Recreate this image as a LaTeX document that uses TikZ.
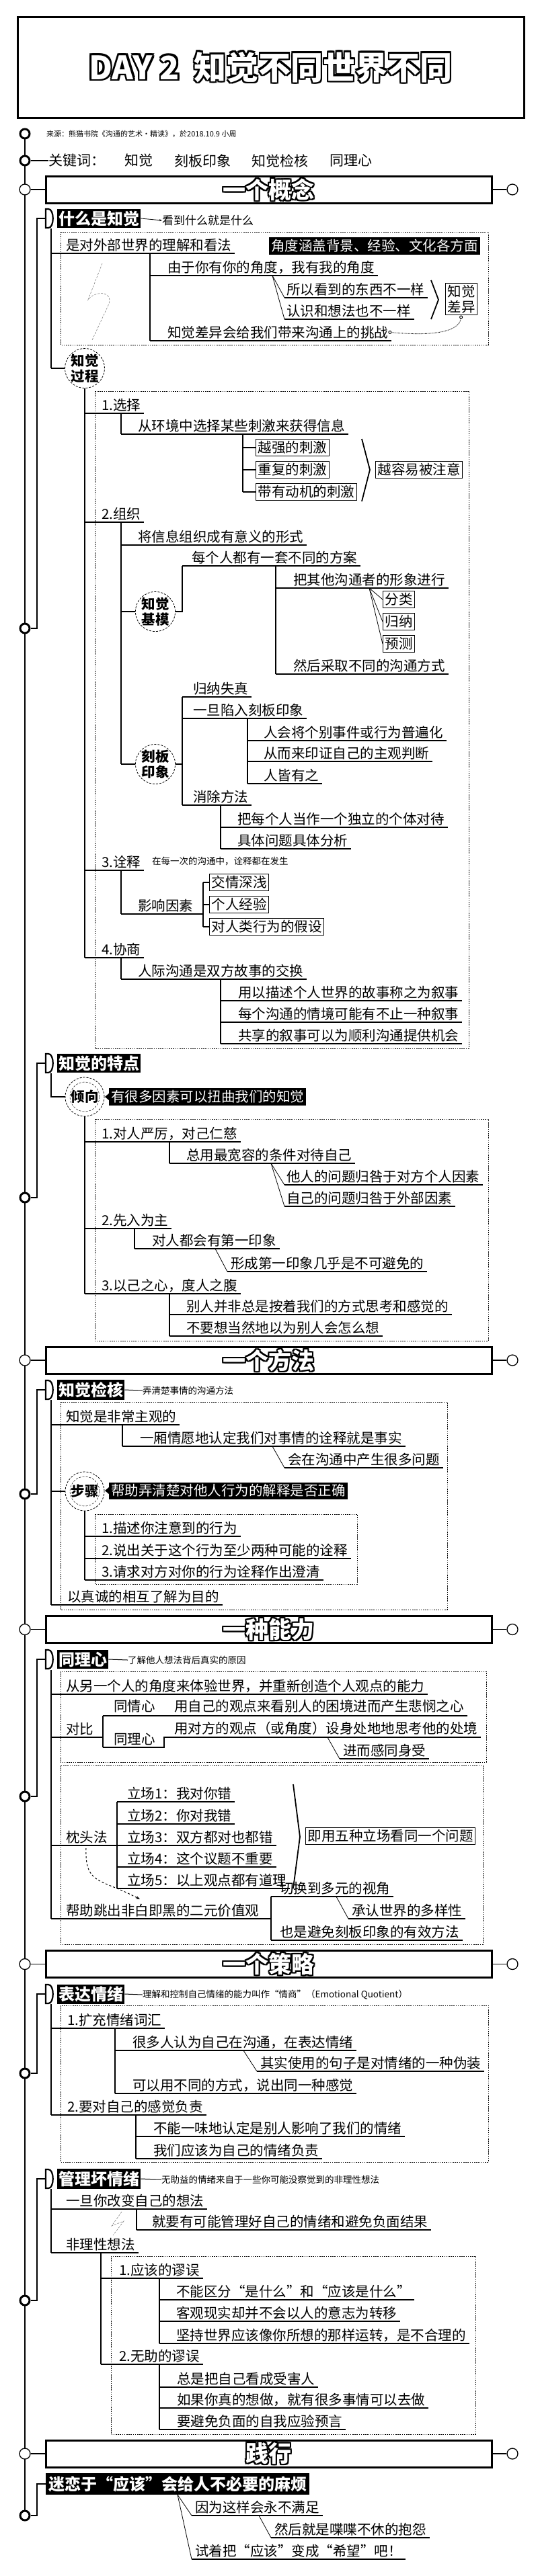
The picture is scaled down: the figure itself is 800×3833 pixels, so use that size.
\documentclass[tikz,border=0pt]{standalone}
\usepackage{fontspec}
\setmainfont{Noto Sans CJK SC}
\usetikzlibrary{calc,arrows.meta}
\newcommand\olcopy[3]{\rlap{\kern#1\raisebox{#2}{\textcolor{black}{#3}}}}
\newcommand\outlined[2]{\olcopy{-#1}{0pt}{#2}\olcopy{#1}{0pt}{#2}\olcopy{0pt}{#1}{#2}\olcopy{0pt}{-#1}{#2}\olcopy{-#1}{-#1}{#2}\olcopy{#1}{#1}{#2}\olcopy{-#1}{#1}{#2}\olcopy{#1}{-#1}{#2}\textcolor{white}{#2}}
\newcommand\brn[5]{%
 \node[txt, anchor=base west] (#1) at (#3,#4-5) {#5};
 \draw[ul] (#2,#4) -- ($(#1.base east)+(5,5)$);}
\newcommand\hdng[3]{%
 \draw[line width=2.2pt, fill=white] (68,#2-14) -- (72,#2-14) .. controls (81,#2-14) and (81,#2+14) .. (72,#2+14) -- (68,#2+14) -- cycle;
 \node[hd, anchor=west] (#1) at (85,#2) {#3};}
\begin{document}
\begin{tikzpicture}[x=1pt, y=-1pt,
 txt/.style={font=\fontsize{20.5}{23}\selectfont, inner sep=0pt},
 kw/.style={font=\fontsize{21}{23}\selectfont, inner sep=0pt, anchor=west},
 ann/.style={font=\fontsize{13.5}{15}\selectfont, inner sep=0pt},
 hand/.style={font=\fontsize{17}{19}\selectfont, inner sep=0pt},
 ul/.style={line width=1.5pt},
 tr/.style={line width=1.2pt},
 fan/.style={line width=0.8pt},
 dbox/.style={line width=0.7pt, dash pattern=on 1.6pt off 1.6pt},
 hd/.style={fill=black, text=white, font=\fontsize{24}{26}\selectfont\bfseries, inner xsep=2pt, inner ysep=3pt},
 blk/.style={fill=black, text=white, font=\fontsize{20.5}{23}\selectfont, inner xsep=3pt, inner ysep=3pt},
 sbox/.style={draw, line width=1pt, fill=white, font=\fontsize{20.5}{23}\selectfont, inner sep=3pt, align=center},
 cir/.style={circle, draw, densely dashed, line width=0.8pt, fill=white, minimum size=58pt, inner sep=0pt, align=center, font=\fontsize{20.5}{23}\selectfont\bfseries},
 dcir/.style={cir, path picture={\draw[densely dashed, line width=0.5pt] (path picture bounding box.center) circle (22pt);}},
 ring/.style={circle, draw, line width=3pt, fill=white, minimum size=14pt, inner sep=0pt},
 tgt/.style={circle, draw, line width=1.3pt, fill=white, minimum size=16pt, inner sep=0pt, path picture={\fill (path picture bounding box.center) circle (3pt);}},
 bar/.style={draw, line width=3pt, fill=white, minimum width=663pt, minimum height=40pt, inner sep=0pt, font=\fontsize{34}{36}\selectfont\bfseries},
 brace/.style={line width=1.8pt}]
\useasboundingbox (0,0) rectangle (800,3833);
\fill[white] (0,0) rectangle (800,3833);

% dashed boxes
\draw[dbox] (90,345) rectangle (726,513);
\draw[dbox] (141,582) rectangle (697,1560);
\draw[dbox] (141,1665) rectangle (726,1995);
\draw[dbox] (90,2086) rectangle (665,2395);
\draw[dbox] (141,2253) rectangle (531,2357);
\draw[dbox] (90,2487) rectangle (723,2622);
\draw[dbox] (90,2627) rectangle (718,2893);
\draw[dbox] (90,2984) rectangle (726,3217);
\draw[dbox] (165,3357) rectangle (707,3622);

% title
\node[draw, line width=3pt, minimum width=753pt, minimum height=150pt, inner sep=0pt, font=\fontsize{48}{50}\selectfont\bfseries] (title) at (402.5,100) {\outlined{2.5pt}{DAY 2\hspace{0.45em}知觉不同世界不同}};

% spine
\draw[line width=2.5pt] (37,199) -- (37,3743);
\node[ring] (src0) at (37,199) {};
\node[ann, anchor=west, font=\fontsize{11}{13}\selectfont] (src) at (69,199) {来源：熊猫书院《沟通的艺术·精读》，於2018.10.9 小周};
\node[ring] (kw0) at (37,239) {};
\node[kw] (kwl) at (72,239) {关键词：};
\draw[tr] (kw0.east) -- (kwl.west);
\node[kw] (kw1) at (185,239) {知觉};
\node[kw] (kw2) at (259,239) {刻板印象};
\node[kw] (kw3) at (374,239) {知觉检核};
\node[kw] (kw4) at (490,239) {同理心};

% bars
\foreach \n/\y/\t in {b1/282/一个概念, b2/2024/一个方法, b3/2424.5/一种能力, b4/2922.5/一个策略, b5/3651/践行}{
 \node[bar] (\n) at (399.5,\y) {\outlined{2pt}{\t}};
 \node[tgt] (\n l) at (37,\y) {};
 \node[tgt] (\n r) at (762,\y) {};
 \draw[tr] (\n l) -- (\n.west);
 \draw[tr] (\n.east) -- (\n r);
}

% ===== section 1 =====
\hdng{h1}{325}{什么是知觉}
\node[ring] (e1) at (37,935) {};
\draw[tr] (e1.east) -| (55,325) -- (68,325);
\node[hand, anchor=west] (h1n) at (241,328) {看到什么就是什么};
\draw[line width=0.8pt, -{Stealth[length=4pt]}] (h1.east) -- (h1n.west);
\draw[tr] (76,340) -- (76,548);
\brn{a1}{76}{98}{377}{是对外部世界的理解和看法}
\node[blk, anchor=west] (a1b) at (400,366) {角度涵盖背景、经验、文化各方面};
\draw[tr] (223,377) -- (223,507);
\brn{a2}{223}{249}{410}{由于你有你的角度，我有我的角度}
\draw[fan] (405,410) -- (423,443);
\draw[fan] (405,410) -- (423,475);
\brn{a3}{423}{426}{443}{所以看到的东西不一样}
\brn{a4}{423}{426}{475}{认识和想法也不一样}
\draw[brace] (641,417) -- (652,446) -- (641,475);
\node[sbox] (a5) at (686,445) {知觉\\差异};
\brn{a6}{223}{249}{507}{知觉差异会给我们带来沟通上的挑战}
\draw[densely dotted, line width=0.9pt, {Circle[open,length=5pt]}-{Circle[open,length=5pt]}] (a5.south) .. controls (682,495) and (640,500) .. (a6.east);
\draw[gray, line width=0.6pt, densely dashed] (152,392) -- (131,446) .. controls (140,433) and (168,432) .. (162,452) -- (137,506);
\node[cir] (p0) at (126,548) {知觉\\过程};
\draw[tr] (76,548) -- (p0.west);
\draw[tr] (p0.south) -- (126,1425);
% 1 选择
\brn{s1}{126}{151}{615}{1.选择}
\draw[tr] (180,615) -- (180,646);
\brn{s1a}{180}{205}{646}{从环境中选择某些刺激来获得信息}
\draw[tr] (361,646) -- (361,732);
\node[sbox, anchor=west] (s1b1) at (380,666) {越强的刺激};
\node[sbox, anchor=west] (s1b2) at (380,699) {重复的刺激};
\node[sbox, anchor=west] (s1b3) at (380,732) {带有动机的刺激};
\draw[tr] (361,666) -- (s1b1.west);
\draw[tr] (361,699) -- (s1b2.west);
\draw[tr] (361,732) -- (s1b3.west);
\draw[brace] (538,653) -- (550,699) -- (538,746);
\node[sbox, anchor=west] (s1c) at (558,699) {越容易被注意};
% 2 组织
\brn{s2}{126}{151}{777}{2.组织}
\draw[tr] (180,777) -- (180,1137);
\brn{s2a}{180}{205}{811}{将信息组织成有意义的形式}
\node[cir] (s2m) at (231,910) {知觉\\基模};
\draw[tr] (180,910) -- (s2m.west);
\draw[tr] (s2m.east) -- (271,910) -- (271,842);
\brn{s2b}{271}{285}{842}{每个人都有一套不同的方案}
\draw[tr] (410,842) -- (410,1003);
\brn{s2c}{410}{436}{875}{把其他沟通者的形象进行}
\node[sbox, anchor=west] (s2d1) at (569,892) {分类};
\node[sbox, anchor=west] (s2d2) at (569,925) {归纳};
\node[sbox, anchor=west] (s2d3) at (569,958) {预测};
\draw[fan] (549,875) -- (s2d1.west);
\draw[fan] (549,875) -- (s2d2.west);
\draw[fan] (549,875) -- (s2d3.west);
\brn{s2e}{410}{436}{1003}{然后采取不同的沟通方式}
\node[cir] (s2k) at (231,1137) {刻板\\印象};
\draw[tr] (180,1137) -- (s2k.west);
\draw[tr] (s2k.east) -- (271,1137);
\draw[tr] (271,1037) -- (271,1198);
\brn{s2f}{271}{287}{1037}{归纳失真}
\brn{s2g}{271}{287}{1069}{一旦陷入刻板印象}
\draw[tr] (368,1069) -- (368,1166);
\brn{s2h}{368}{392}{1102}{人会将个别事件或行为普遍化}
\brn{s2i}{368}{392}{1133}{从而来印证自己的主观判断}
\brn{s2j}{368}{392}{1166}{人皆有之}
\brn{s2l}{271}{287}{1198}{消除方法}
\draw[tr] (328,1198) -- (328,1263);
\brn{s2n}{328}{353}{1231}{把每个人当作一个独立的个体对待}
\brn{s2o}{328}{353}{1263}{具体问题具体分析}
% 3 诠释
\brn{s3}{126}{151}{1295}{3.诠释}
\node[ann, anchor=base west] (s3n) at (226,1286) {在每一次的沟通中，诠释都在发生};
\draw[tr] (180,1295) -- (180,1360);
\node[txt, anchor=base west] (s3a) at (205,1355) {影响因素};
\draw[ul] (180,1360) -- (302,1360);
\draw[tr] (302,1313) -- (302,1379);
\node[sbox, anchor=west] (s3b1) at (311,1313) {交情深浅};
\node[sbox, anchor=west] (s3b2) at (311,1346) {个人经验};
\node[sbox, anchor=west] (s3b3) at (311,1379) {对人类行为的假设};
\draw[tr] (302,1313) -- (s3b1.west);
\draw[tr] (302,1346) -- (s3b2.west);
\draw[tr] (302,1379) -- (s3b3.west);
% 4 协商
\brn{s4}{126}{151}{1425}{4.协商}
\draw[tr] (180,1425) -- (180,1457);
\brn{s4a}{180}{205}{1457}{人际沟通是双方故事的交换}
\draw[tr] (328,1457) -- (328,1553);
\brn{s4b}{328}{354}{1489}{用以描述个人世界的故事称之为叙事}
\brn{s4c}{328}{354}{1521}{每个沟通的情境可能有不止一种叙事}
\brn{s4d}{328}{354}{1553}{共享的叙事可以为顺利沟通提供机会}

% ===== section 2 =====
\hdng{h2}{1582}{知觉的特点}
\node[ring] (e2) at (37,1782) {};
\draw[tr] (e2.east) -| (55,1582) -- (68,1582);
\node[dcir] (q0) at (126,1632) {倾向};
\draw[tr] (76,1597) -- (76,1632) -- (q0.west);
\node[blk, anchor=west] (q0b) at (162,1632) {有很多因素可以扭曲我们的知觉};
\fill ($(q0b.west)+(0,-5)$) -- ++(-6,5) -- ++(6,5) -- cycle;
\draw[tr] (q0.south) -- (126,1925);
\brn{q1}{126}{151}{1699}{1.对人严厉，对己仁慈}
\draw[tr] (252,1699) -- (252,1731);
\brn{q1a}{252}{277}{1731}{总用最宽容的条件对待自己}
\draw[fan] (403,1731) -- (423,1763);
\draw[fan] (403,1731) -- (423,1795);
\brn{q1b}{423}{426}{1763}{他人的问题归咎于对方个人因素}
\brn{q1c}{423}{426}{1795}{自己的问题归咎于外部因素}
\brn{q2}{126}{151}{1828}{2.先入为主}
\draw[tr] (200,1828) -- (200,1858);
\brn{q2a}{200}{226}{1858}{对人都会有第一印象}
\draw[fan] (320,1858) -- (338,1892);
\brn{q2b}{338}{343}{1892}{形成第一印象几乎是不可避免的}
\brn{q3}{126}{151}{1925}{3.以己之心，度人之腹}
\draw[tr] (252,1925) -- (252,1988);
\brn{q3a}{252}{277}{1956}{别人并非总是按着我们的方式思考和感觉的}
\brn{q3b}{252}{277}{1988}{不要想当然地以为别人会怎么想}

% ===== section 3 =====
\hdng{h3}{2068}{知觉检核}
\node[ann, anchor=west] (h3n) at (212,2069) {弄清楚事情的沟通方法};
\draw[line width=1pt] (h3.east) -- (h3n.west);
\node[ring] (e3) at (37,2223) {};
\draw[tr] (e3.east) -| (55,2068) -- (68,2068);
\draw[tr] (76,2083) -- (76,2388);
\brn{m1}{76}{98}{2120}{知觉是非常主观的}
\draw[tr] (182,2120) -- (182,2152);
\brn{m1a}{182}{208}{2152}{一厢情愿地认定我们对事情的诠释就是事实}
\draw[fan] (405,2152) -- (423,2184);
\brn{m1b}{423}{428}{2184}{会在沟通中产生很多问题}
\node[dcir] (m2) at (126,2219) {步骤};
\draw[tr] (76,2219) -- (m2.west);
\node[blk, anchor=west] (m2b) at (162,2218) {帮助弄清楚对他人行为的解释是否正确};
\fill ($(m2b.west)+(0,-5)$) -- ++(-6,5) -- ++(6,5) -- cycle;
\draw[tr] (m2.south) -- (126,2351);
\brn{m3}{126}{151}{2286}{1.描述你注意到的行为}
\brn{m4}{126}{151}{2319}{2.说出关于这个行为至少两种可能的诠释}
\brn{m5}{126}{151}{2351}{3.请求对方对你的行为诠释作出澄清}
\brn{m6}{76}{100}{2388}{以真诚的相互了解为目的}

% ===== section 4 =====
\hdng{h4}{2469}{同理心}
\node[ann, anchor=west] (h4n) at (190,2470) {了解他人想法背后真实的原因};
\draw[line width=1pt] (h4.east) -- (h4n.west);
\node[ring] (e4) at (37,2673) {};
\draw[tr] (e4.east) -| (55,2469) -- (68,2469);
\draw[tr] (76,2485) -- (76,2855);
\brn{t1}{76}{98}{2521}{从另一个人的角度来体验世界，并重新创造个人观点的能力}
\node[txt, anchor=base west] (t2) at (98,2580) {对比};
\draw[ul] (76,2585) -- (153,2585);
\node[txt, anchor=base west] (t3) at (169,2546) {同情心};
\node[txt, anchor=base west] (t3b) at (259,2546) {用自己的观点来看别人的困境进而产生悲悯之心};
\draw[ul] (153,2553) -- ($(t3b.base east)+(5,7)$);
\draw[tr] (153,2553) -- (153,2600);
\node[txt, anchor=base west] (t4) at (169,2595) {同理心};
\node[txt, anchor=base west] (t4b) at (259,2579) {用对方的观点（或角度）设身处地地思考他的处境};
\draw[ul] (153,2600) -- (244,2600) -- (244,2585) -- ($(t4b.base east)+(5,6)$);
\draw[fan] (487,2585) -- (505,2617);
\brn{t5}{505}{510}{2617}{进而感同身受}
\node[txt, anchor=base west] (t6) at (98,2741) {枕头法};
\draw[ul] (76,2746) -- (174,2746);
\draw[tr] (174,2681) -- (174,2810);
\brn{t7}{174}{189}{2681}{立场1：我对你错}
\brn{t8}{174}{189}{2714}{立场2：你对我错}
\brn{t9}{174}{189}{2746}{立场3：双方都对也都错}
\brn{t10}{174}{189}{2778}{立场4：这个议题不重要}
\brn{t11}{174}{189}{2810}{立场5：以上观点都有道理}
\draw[brace] (436,2655) -- (446,2733) -- (436,2810);
\node[sbox, anchor=west] (t12) at (454,2732) {即用五种立场看同一个问题};
\node[txt, anchor=base west] (t13) at (98,2850) {帮助跳出非白即黑的二元价值观};
\draw[ul] (76,2855) -- (403,2855);
\draw[dashed, line width=1pt, -{Stealth[length=6pt]}] (128,2750) .. controls (126,2805) and (150,2795) .. (208,2826);
\draw[tr] (403,2822) -- (403,2887);
\brn{t14}{403}{416}{2822}{切换到多元的视角}
\draw[fan] (500,2822) -- (518,2855);
\brn{t15}{518}{523}{2855}{承认世界的多样性}
\brn{t16}{403}{416}{2887}{也是避免刻板印象的有效方法}

% ===== section 5 =====
\hdng{h5}{2967}{表达情绪}
\node[ann, anchor=west] (h5n) at (212,2968) {理解和控制自己情绪的能力叫作“情商”（Emotional Quotient）};
\draw[line width=1pt] (h5.east) -- (h5n.west);
\node[ring] (e5) at (37,3085) {};
\draw[tr] (e5.east) -| (55,2967) -- (68,2967);
\draw[tr] (76,2982) -- (76,3147);
\brn{u1}{76}{100}{3018}{1.扩充情绪词汇}
\draw[tr] (171,3018) -- (171,3115);
\brn{u1a}{171}{197}{3051}{很多人认为自己在沟通，在表达情绪}
\draw[fan] (362,3051) -- (382,3082);
\brn{u1b}{382}{387}{3082}{其实使用的句子是对情绪的一种伪装}
\brn{u1c}{171}{197}{3115}{可以用不同的方式，说出同一种感觉}
\brn{u2}{76}{100}{3147}{2.要对自己的感觉负责}
\draw[tr] (202,3147) -- (202,3212);
\brn{u2a}{202}{228}{3179}{不能一味地认定是别人影响了我们的情绪}
\brn{u2b}{202}{228}{3212}{我们应该为自己的情绪负责}

% ===== section 6 =====
\hdng{h6}{3242}{管理坏情绪}
\node[ann, anchor=west] (h6n) at (240,3243) {无助益的情绪来自于一些你可能没察觉到的非理性想法};
\draw[line width=1pt] (h6.east) -- (h6n.west);
\node[ring] (e6) at (37,3423) {};
\draw[tr] (e6.east) -| (55,3242) -- (68,3242);
\draw[tr] (76,3257) -- (76,3352);
\brn{v1}{76}{98}{3287}{一旦你改变自己的想法}
\draw[tr] (203,3287) -- (203,3318);
\brn{v1a}{203}{226}{3318}{就要有可能管理好自己的情绪和避免负面结果}
\draw[gray, line width=0.6pt, densely dashed] (181,3291) -- (166,3312) -- (184,3305) -- (168,3326);
\brn{v2}{76}{98}{3352}{非理性想法}
\draw[tr] (150,3352) -- (150,3518);
\brn{v3}{150}{177}{3390}{1.应该的谬误}
\draw[tr] (237,3390) -- (237,3487);
\brn{v3a}{237}{262}{3422}{不能区分“是什么”和“应该是什么”}
\brn{v3b}{237}{262}{3454}{客观现实却并不会以人的意志为转移}
\brn{v3c}{237}{262}{3487}{坚持世界应该像你所想的那样运转，是不合理的}
\brn{v4}{150}{177}{3518}{2.无助的谬误}
\draw[tr] (237,3518) -- (237,3615);
\brn{v4a}{237}{263}{3552}{总是把自己看成受害人}
\brn{v4b}{237}{263}{3583}{如果你真的想做，就有很多事情可以去做}
\brn{v4c}{237}{263}{3615}{要避免负面的自我应验预言}

% ===== section 7 =====
\node[blk, anchor=west, font=\fontsize{24}{26}\selectfont\bfseries, inner xsep=4pt, inner ysep=4pt] (w0) at (68,3696) {迷恋于“应该”会给人不必要的麻烦};
\node[ring] (e7) at (37,3743) {};
\draw[tr] (e7.east) -| (55,3696) -- (w0.west);
\draw[fan] (264,3712) -- (285,3743);
\draw[fan] (264,3712) -- (285,3808);
\brn{w1}{285}{290}{3743}{因为这样会永不满足}
\draw[fan] (385,3743) -- (403,3776);
\brn{w2}{403}{408}{3776}{然后就是喋喋不休的抱怨}
\brn{w3}{285}{290}{3808}{试着把“应该”变成“希望”吧！}
\end{tikzpicture}
\end{document}
